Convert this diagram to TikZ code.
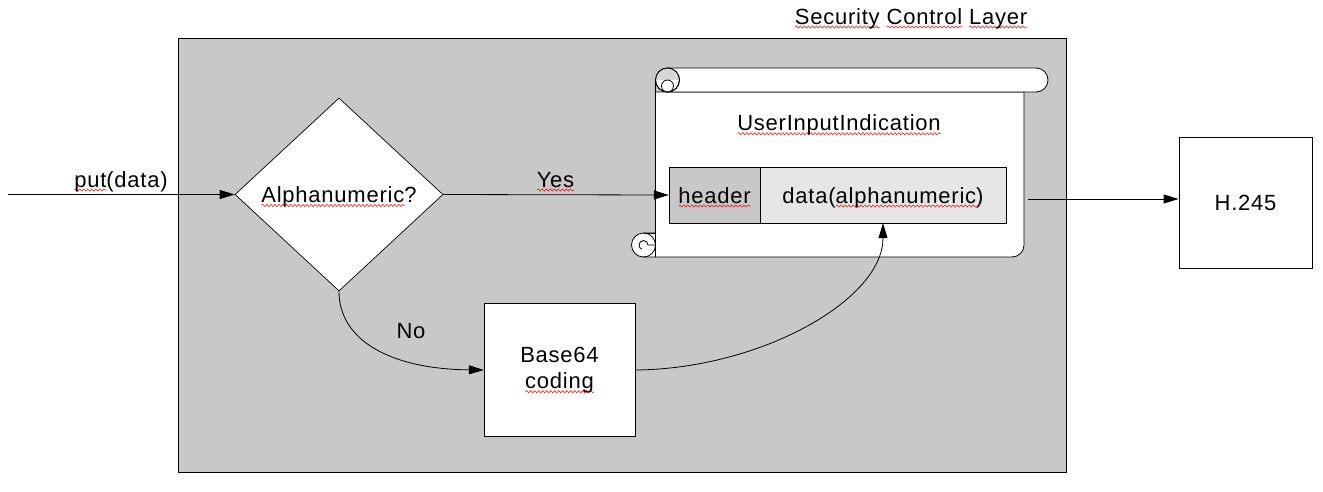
\documentclass[tikz,border=0pt]{standalone}
\usepackage{fontspec}
\setmainfont{Liberation Sans}[LetterSpace=3.5]
\usetikzlibrary{shapes.geometric,arrows.meta,decorations.pathmorphing}
\definecolor{layergray}{RGB}{200,200,200}
\definecolor{datagray}{RGB}{230,230,230}
\definecolor{curlgray}{RGB}{215,215,215}
\definecolor{splred}{RGB}{220,30,30}
\newsavebox\splbox
\newcommand\spl[1]{\savebox\splbox{#1}\leavevmode\rlap{\lower3pt\hbox{\tikz[baseline=0pt]\draw[splred,line width=0.55pt,decorate,decoration={snake,amplitude=1.1pt,segment length=4pt}] (0pt,0pt) -- (\wd\splbox,0pt);}}\usebox\splbox}
\begin{document}
\begin{tikzpicture}[x=1pt,y=-1pt,
  font=\fontsize{22}{26.6}\selectfont,
  line width=0.8pt,
  >={Triangle[length=15pt,width=9pt]},
  box/.style={draw=black,fill=white,inner sep=0pt,text height=16pt,text depth=0pt},
  cell/.style={draw=black,inner sep=0pt,minimum height=56pt,text height=16pt,text depth=0pt},
  lbl/.style={inner sep=0pt,anchor=base},
  conn/.style={draw=black,->},
  scrollline/.style={draw=black,line width=0.8pt}]
\useasboundingbox (0,0) rectangle (1323,491);

% layer
\node[draw=black,fill=layergray,inner sep=0pt,minimum width=888pt,minimum height=434pt] (layer) at (622,255) {};
\node[lbl] (title) at (911,24) {\spl{Security} \spl{Control} \spl{Layer}};

% scroll body
\draw[scrollline,fill=white] (655.5,80) -- (655.5,233) -- (643.5,233) -- (643.5,257) -- (1012,257)
   arc[start angle=90,end angle=0,radius=12] -- (1024,92) -- (655.5,92) -- cycle;
% bottom curl
\draw[scrollline,fill=white] (643.5,245) circle[radius=12];
\draw[scrollline] (643.5,233) -- (655.5,233) -- (655.5,257);
\draw[scrollline] (655.5,245) -- (648,245) arc[start angle=0,end angle=-250,radius=4.5];
% top roll
\draw[scrollline,fill=white] (667.5,68) -- (1036,68) arc[start angle=-90,end angle=90,radius=12] -- (667.5,92);
\draw[scrollline,fill=white] (667.5,80) circle[radius=12];
\fill[curlgray] (656,80) arc[start angle=180,end angle=360,radius=11.5] -- cycle;
\draw[scrollline,fill=white] (667.5,86) circle[radius=6];
\draw[scrollline] (667.5,80) circle[radius=12];

\node[lbl] (uii) at (839,130.7) {\spl{UserInputIndication}};
\node[cell,fill=layergray,minimum width=91pt] (hdr) at (714.5,195) {\spl{header}};
\node[cell,fill=datagray,minimum width=246pt] (dat) at (883,195) {data(\spl{alphanumeric})};

% decision
\node[diamond,draw=black,line width=0.7pt,fill=white,minimum width=208pt,minimum height=193pt,inner sep=0pt,text height=16pt,text depth=0pt] (dec) at (339,194.5) {\spl{Alphanumeric}?};

% boxes
\node[draw=black,fill=white,inner sep=0pt,minimum width=151pt,minimum height=133pt,align=center] (b64) at (559.5,370) {Base64\\\spl{coding}};
\node[box,minimum width=133pt,minimum height=131pt] (h245) at (1245.5,202.5) {H.245};

% connectors
\coordinate (instart) at (8,194.5);
\coordinate (outstart) at (1028,199);
\draw[conn] (instart) -- (dec.west);
\node[lbl] (putlbl) at (121,187) {\spl{put}(data)};
\draw[conn] (dec.east) -- (hdr.west);
\node[lbl] (yeslbl) at (555.5,187) {\spl{Yes}};
\draw[conn] (dec.south) .. controls (339,340) and (390,369) .. (b64.west);
\node[lbl] (nolbl) at (411,338) {No};
\draw[conn] (b64.east) .. controls (760,369) and (883,300) .. (dat.south);
\draw[conn] (outstart) -- (outstart -| h245.west);
\end{tikzpicture}
\end{document}
